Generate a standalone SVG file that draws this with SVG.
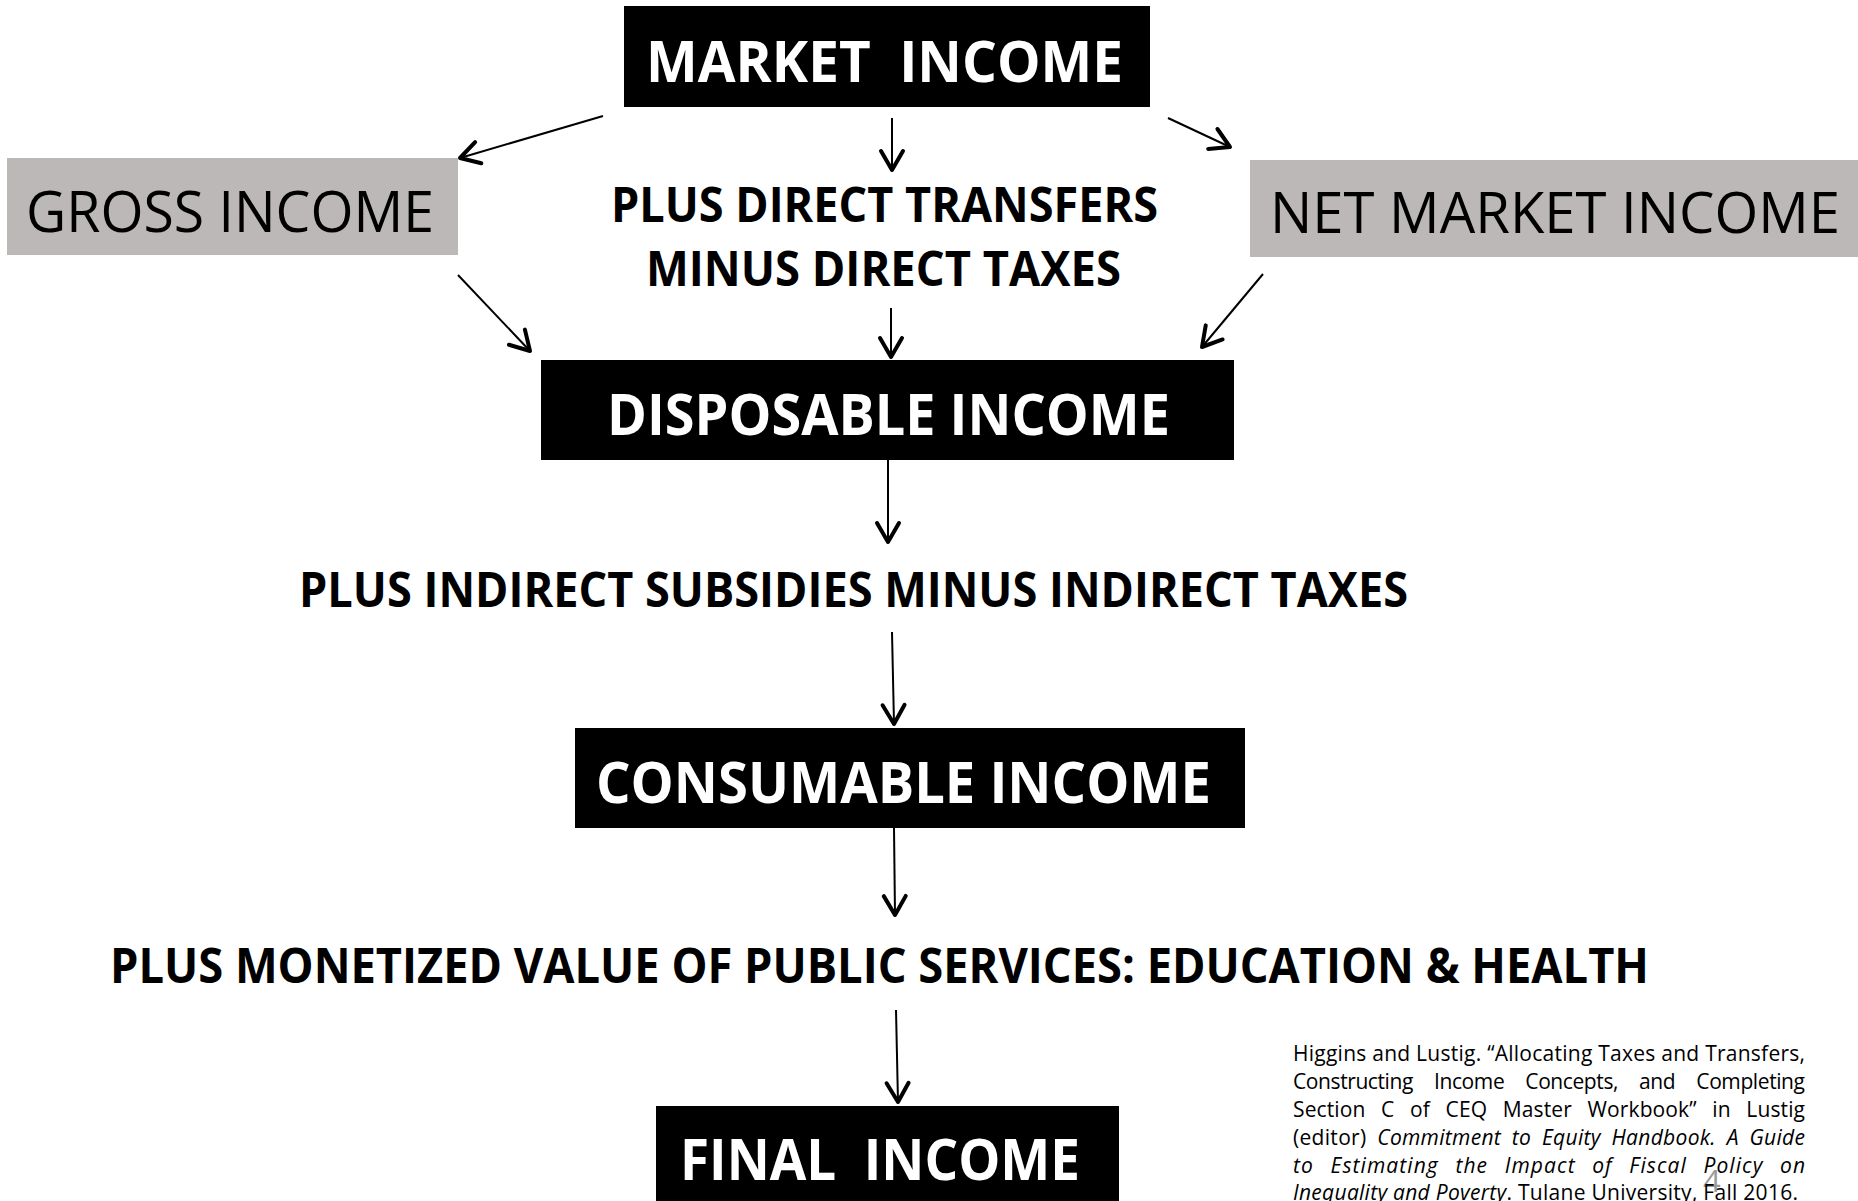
<svg xmlns="http://www.w3.org/2000/svg" width="1858" height="1201" viewBox="0 0 1858 1201">
<style>
.blk{fill:#000}
.gry{fill:#bbb8b7}
.t{font-family:"Open Sans","Noto Sans","Liberation Sans",sans-serif}
.wb{fill:#fff;font-weight:700;font-size:57px}
.bb{fill:#000;font-weight:700;font-size:48px}
.rg{fill:#000;font-weight:400;font-size:57px}
.c{font-family:"Open Sans","Noto Sans","Liberation Sans",sans-serif;font-size:21px;fill:#000}
.i{font-style:italic}
.arr{stroke:#000;stroke-width:2;fill:none;marker-end:url(#ah)}
</style>
<defs>
<marker id="ah" markerUnits="userSpaceOnUse" markerWidth="40" markerHeight="40" refX="0" refY="0" orient="auto" overflow="visible">
<path d="M-19,-11 L0,0 L-19,11" fill="none" stroke="#000" stroke-width="4" stroke-linecap="round" stroke-linejoin="round"/>
</marker>
</defs>
<rect width="1858" height="1201" fill="#fff"/>

<g id="market-income">
<rect class="blk" x="624" y="6" width="526" height="101"/>
<text class="t wb" x="646" y="82" textLength="477" lengthAdjust="spacingAndGlyphs" xml:space="preserve">MARKET  INCOME</text>
</g>
<g id="gross-income">
<rect class="gry" x="7" y="158" width="451" height="97"/>
<text class="t rg" x="26" y="232" textLength="408" lengthAdjust="spacingAndGlyphs">GROSS INCOME</text>
</g>
<g id="net-market-income">
<rect class="gry" x="1250" y="160" width="608" height="97"/>
<text class="t rg" x="1270" y="233" textLength="570" lengthAdjust="spacingAndGlyphs">NET MARKET INCOME</text>
</g>
<g id="direct-label">
<text class="t bb" x="611" y="222" textLength="547" lengthAdjust="spacingAndGlyphs">PLUS DIRECT TRANSFERS</text>
<text class="t bb" x="646" y="286" textLength="475" lengthAdjust="spacingAndGlyphs">MINUS DIRECT TAXES</text>
</g>
<g id="disposable-income">
<rect class="blk" x="541" y="360" width="693" height="100"/>
<text class="t wb" x="607" y="435" textLength="563" lengthAdjust="spacingAndGlyphs">DISPOSABLE INCOME</text>
</g>
<g id="indirect-label">
<text class="t bb" x="299" y="607" textLength="1109" lengthAdjust="spacingAndGlyphs">PLUS INDIRECT SUBSIDIES MINUS INDIRECT TAXES</text>
</g>
<g id="consumable-income">
<rect class="blk" x="575" y="728" width="670" height="100"/>
<text class="t wb" x="596" y="803" textLength="615" lengthAdjust="spacingAndGlyphs">CONSUMABLE INCOME</text>
</g>
<g id="services-label">
<text class="t bb" x="110" y="983" textLength="1539" lengthAdjust="spacingAndGlyphs">PLUS MONETIZED VALUE OF PUBLIC SERVICES: EDUCATION &amp; HEALTH</text>
</g>
<g id="final-income">
<rect class="blk" x="656" y="1106" width="463" height="100"/>
<text class="t wb" x="680" y="1180" textLength="400" lengthAdjust="spacingAndGlyphs" xml:space="preserve">FINAL  INCOME</text>
</g>

<g id="connectors">
<line class="arr" x1="603" y1="116" x2="460" y2="158"/>
<line class="arr" x1="892" y1="118" x2="892" y2="170"/>
<line class="arr" x1="1168" y1="118" x2="1230" y2="147"/>
<line class="arr" x1="458" y1="275" x2="530" y2="351"/>
<line class="arr" x1="891" y1="308" x2="891" y2="357"/>
<line class="arr" x1="1263" y1="274" x2="1202" y2="347"/>
<line class="arr" x1="888" y1="460" x2="888" y2="542"/>
<line class="arr" x1="892" y1="632" x2="894" y2="724"/>
<line class="arr" x1="894" y1="828" x2="895" y2="915"/>
<line class="arr" x1="896" y1="1010" x2="898" y2="1102"/>
</g>

<g id="citation">
<text class="c" x="1703" y="1192" style="font-size:31px;fill:#9a9a9a">4</text>
<text class="c" x="1293" y="1061" textLength="512" lengthAdjust="spacing">Higgins and Lustig. “Allocating Taxes and Transfers,</text>
<text class="c" x="1293" y="1089" textLength="512" lengthAdjust="spacing" style="word-spacing:16px">Constructing Income Concepts, and Completing</text>
<text class="c" x="1293" y="1117" textLength="512" lengthAdjust="spacing" style="word-spacing:10px">Section C of CEQ Master Workbook” in Lustig</text>
<text class="c" x="1293" y="1145" textLength="512" lengthAdjust="spacing" style="word-spacing:5px">(editor) <tspan class="i">Commitment to Equity Handbook. A Guide</tspan></text>
<text class="c i" x="1293" y="1173" textLength="512" lengthAdjust="spacing" style="word-spacing:10px">to Estimating the Impact of Fiscal Policy on</text>
<text class="c" x="1293" y="1200" textLength="505" lengthAdjust="spacing"><tspan class="i">Inequality and Poverty</tspan>. Tulane University, Fall 2016.</text>
</g>
</svg>
